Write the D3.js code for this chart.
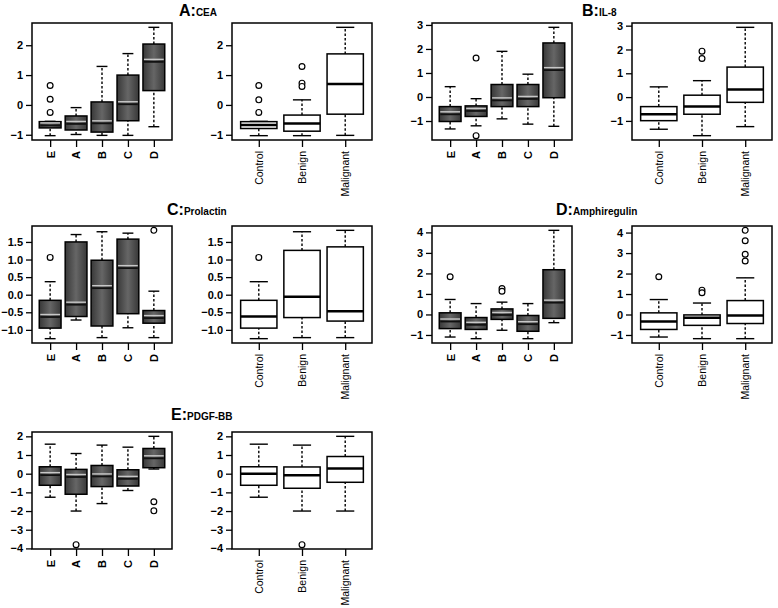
<!DOCTYPE html>
<html>
<head>
<meta charset="utf-8">
<script src="https://cdn.jsdelivr.net/npm/d3@7"></script>
<style>
body { margin: 0; background: #fff; }
svg { font-family: "Liberation Sans", Arial, sans-serif; }
</style>
</head>
<body>
<div id="chart"></div>
<script>
// categories
var stageCats = ["E", "A", "B", "C", "D"];
var groupCats = ["Control", "Benign", "Malignant"];

// box stats per category: [lower whisker, q1, median, q3, upper whisker]
var ceaStage = [[-1.03, -0.77, -0.67, -0.56, -0.55], [-0.99, -0.84, -0.62, -0.37, -0.09],
                [-1.02, -0.91, -0.60, 0.10, 1.29], [-1.02, -0.53, 0.04, 1.00, 1.72],
                [-0.73, 0.48, 1.46, 2.04, 2.60]];
var ceaStageOut = [[0.65, 0.19, -0.25], [], [], [], []];
var ceaGroup = [[-1.03, -0.79, -0.67, -0.56, -0.55], [-1.03, -0.88, -0.62, -0.34, 0.17],
                [-1.02, -0.31, 0.70, 1.71, 2.60]];
var ceaGroupOut = [[0.65, 0.17, -0.25], [1.29, 0.73, 0.62], []];
var ceaTicks = [-1, 0, 1, 2];

var il8Stage = [[-1.33, -1.02, -0.70, -0.40, 0.43], [-1.20, -0.81, -0.56, -0.37, -0.07],
                [-0.91, -0.40, -0.12, 0.52, 1.90], [-1.13, -0.40, -0.06, 0.52, 0.95],
                [-1.22, -0.03, 1.14, 2.25, 2.90]];
var il8StageOut = [[], [1.62, -1.61], [], [], []];
var il8Group = [[-1.35, -0.99, -0.72, -0.40, 0.43], [-1.62, -0.72, -0.40, 0.08, 0.69],
                [-1.24, -0.22, 0.32, 1.26, 2.93]];
var il8GroupOut = [[], [1.93, 1.62], []];
var il8Ticks = [-1, 0, 1, 2, 3];

var prlStage = [[-1.25, -0.95, -0.62, -0.16, 0.37], [-0.72, -0.62, -0.27, 1.50, 1.71],
                [-1.22, -0.89, 0.20, 0.98, 1.79], [-0.94, -0.54, 0.77, 1.58, 1.75],
                [-1.22, -0.81, -0.65, -0.45, 0.10]];
var prlStageOut = [[1.06], [], [], [], [1.83]];
var prlGroup = [[-1.25, -0.95, -0.62, -0.16, 0.37], [-1.22, -0.65, -0.06, 1.26, 1.79],
                [-1.22, -0.75, -0.47, 1.36, 1.83]];
var prlGroupOut = [[1.06], [], []];
var prlTicks = [-1.0, -0.5, 0.0, 0.5, 1.0, 1.5];

var aregStage = [[-1.10, -0.69, -0.32, 0.08, 0.73], [-1.18, -0.73, -0.48, -0.15, 0.53],
                 [-0.77, -0.24, 0.00, 0.27, 0.60], [-1.18, -0.82, -0.45, -0.05, 0.53],
                 [-0.40, -0.19, 0.60, 2.18, 4.10]];
var aregStageOut = [[1.84], [], [1.26, 1.13], [], []];
var aregGroup = [[-1.10, -0.73, -0.34, 0.08, 0.73], [-1.18, -0.53, -0.16, -0.02, 0.56],
                 [-1.18, -0.44, -0.05, 0.68, 1.79]];
var aregGroupOut = [[1.84], [1.19, 1.06], [2.61, 2.94, 3.60, 4.11]];
var aregTicks = [-1, 0, 1, 2, 3, 4];

var pdgfStage = [[-1.26, -0.62, -0.05, 0.37, 1.58], [-2.00, -1.10, -0.15, 0.23, 1.08],
                 [-1.60, -0.69, -0.12, 0.44, 1.53], [-0.90, -0.66, -0.25, 0.21, 1.42],
                 [0.25, 0.32, 0.85, 1.35, 2.00]];
var pdgfStageOut = [[], [-3.80], [], [], [-1.50, -1.99]];
var pdgfGroup = [[-1.26, -0.62, 0.00, 0.37, 1.58], [-2.00, -0.78, -0.09, 0.36, 1.53],
                 [-2.00, -0.46, 0.28, 0.92, 2.00]];
var pdgfGroupOut = [[], [-3.80], []];
var pdgfTicks = [-4, -3, -2, -1, 0, 1, 2];

var width = 778, height = 608;
var plotW = 140, plotH = 117;
var colX = [32, 232, 432, 632];
var rowY = [23, 226, 432];

var svg = d3.select("#chart")
  .append("svg")
    .attr("width", width)
    .attr("height", height);

// grey shading used for the stage boxes
var grad = svg.append("defs").append("linearGradient")
    .attr("id", "shade")
    .attr("x1", "0").attr("x2", "1").attr("y1", "0").attr("y2", "0");
grad.append("stop").attr("offset", "0%").attr("stop-color", "#383838");
grad.append("stop").attr("offset", "50%").attr("stop-color", "#666");
grad.append("stop").attr("offset", "100%").attr("stop-color", "#383838");

function boxPanel(px, py, cats, stats, outs, ticks, fmt, shaded) {
  var g = svg.append("g").attr("transform", "translate(" + px + "," + py + ")");
  var n = cats.length;

  var x = d3.scaleLinear()
    .domain([0.5 - 0.04 * n, n + 0.5 + 0.04 * n])
    .range([0, plotW]);

  var all = [];
  stats.forEach(function(s) { all = all.concat(s); });
  outs.forEach(function(o) { all = all.concat(o); });
  var lo = d3.min(all), hi = d3.max(all), ext = (hi - lo) * 0.04;
  var y = d3.scaleLinear()
    .domain([lo - ext, hi + ext])
    .range([plotH, 0]);

  var bw = (x(2) - x(1)) * 0.84;

  // y axis
  g.append("g")
    .call(d3.axisLeft(y).tickValues(ticks).tickFormat(d3.format(fmt)).tickSize(6).tickPadding(3))
    .call(function(a) { a.select(".domain").remove(); })
    .call(function(a) {
      a.selectAll("line").attr("stroke", "#000").attr("stroke-width", 1.3);
      a.selectAll("text").style("font-size", "11px").style("font-weight", "bold").attr("fill", "#000");
    });

  // x axis
  g.append("g")
    .attr("transform", "translate(0," + plotH + ")")
    .call(d3.axisBottom(x).tickValues(d3.range(1, n + 1))
            .tickFormat(function(d) { return cats[d - 1]; }).tickSize(7))
    .call(function(a) { a.select(".domain").remove(); })
    .call(function(a) {
      a.selectAll("line").attr("stroke", "#000").attr("stroke-width", 1.3);
      a.selectAll("text")
        .attr("transform", "rotate(-90)")
        .attr("x", -11).attr("y", 0).attr("dy", "0.35em")
        .style("text-anchor", "end")
        .style("font-size", shaded ? "11px" : "10.5px")
        .style("font-weight", shaded ? "bold" : "normal")
        .attr("fill", "#000");
    });

  var box = g.selectAll(".bx")
    .data(stats)
    .enter()
    .append("g");

  // whiskers
  box.append("line")
    .attr("x1", function(d, i) { return x(i + 1); })
    .attr("x2", function(d, i) { return x(i + 1); })
    .attr("y1", function(d) { return y(d[0]); })
    .attr("y2", function(d) { return y(d[1]); })
    .attr("stroke", "#000").attr("stroke-width", 1.4).attr("stroke-dasharray", "2.5,2");
  box.append("line")
    .attr("x1", function(d, i) { return x(i + 1); })
    .attr("x2", function(d, i) { return x(i + 1); })
    .attr("y1", function(d) { return y(d[3]); })
    .attr("y2", function(d) { return y(d[4]); })
    .attr("stroke", "#000").attr("stroke-width", 1.4).attr("stroke-dasharray", "2.5,2");

  // staples
  [0, 4].forEach(function(k) {
    box.append("line")
      .attr("x1", function(d, i) { return x(i + 1) - bw / 4; })
      .attr("x2", function(d, i) { return x(i + 1) + bw / 4; })
      .attr("y1", function(d) { return y(d[k]); })
      .attr("y2", function(d) { return y(d[k]); })
      .attr("stroke", "#000").attr("stroke-width", 1.4);
  });

  // boxes
  box.append("rect")
    .attr("x", function(d, i) { return x(i + 1) - bw / 2; })
    .attr("y", function(d) { return y(d[3]); })
    .attr("width", bw)
    .attr("height", function(d) { return y(d[1]) - y(d[3]); })
    .attr("fill", shaded ? "url(#shade)" : "#fff")
    .attr("stroke", "#000").attr("stroke-width", 1.5);

  // medians
  if (shaded) {
    box.append("line")
      .attr("x1", function(d, i) { return x(i + 1) - bw / 2 + 1; })
      .attr("x2", function(d, i) { return x(i + 1) + bw / 2 - 1; })
      .attr("y1", function(d) { return y(d[2]) - 2; })
      .attr("y2", function(d) { return y(d[2]) - 2; })
      .attr("stroke", "#c8c8c8").attr("stroke-width", 1.4);
    box.append("line")
      .attr("x1", function(d, i) { return x(i + 1) - bw / 2 + 1; })
      .attr("x2", function(d, i) { return x(i + 1) + bw / 2 - 1; })
      .attr("y1", function(d) { return y(d[2]) + 0.5; })
      .attr("y2", function(d) { return y(d[2]) + 0.5; })
      .attr("stroke", "#111").attr("stroke-width", 1.8);
  } else {
    box.append("line")
      .attr("x1", function(d, i) { return x(i + 1) - bw / 2; })
      .attr("x2", function(d, i) { return x(i + 1) + bw / 2; })
      .attr("y1", function(d) { return y(d[2]); })
      .attr("y2", function(d) { return y(d[2]); })
      .attr("stroke", "#000").attr("stroke-width", 2.5);
  }

  // outliers
  outs.forEach(function(o, i) {
    g.selectAll(null)
      .data(o)
      .enter()
      .append("circle")
        .attr("cx", x(i + 1))
        .attr("cy", function(d) { return y(d); })
        .attr("r", 2.9)
        .attr("fill", "#fff")
        .attr("stroke", "#000")
        .attr("stroke-width", 1.2);
  });

  // frame
  g.append("rect")
    .attr("width", plotW)
    .attr("height", plotH)
    .attr("fill", "none")
    .attr("stroke", "#000")
    .attr("stroke-width", 1.5);
}

function title(tx, ty, big, small) {
  var t = svg.append("text")
    .attr("x", tx).attr("y", ty)
    .style("font-weight", "bold");
  t.append("tspan").style("font-size", "16px").text(big);
  t.append("tspan").style("font-size", "10px").text(small);
}

boxPanel(colX[0], rowY[0], stageCats, ceaStage, ceaStageOut, ceaTicks, "d", true);
boxPanel(colX[1], rowY[0], groupCats, ceaGroup, ceaGroupOut, ceaTicks, "d", false);
boxPanel(colX[2], rowY[0], stageCats, il8Stage, il8StageOut, il8Ticks, "d", true);
boxPanel(colX[3], rowY[0], groupCats, il8Group, il8GroupOut, il8Ticks, "d", false);
boxPanel(colX[0], rowY[1], stageCats, prlStage, prlStageOut, prlTicks, ".1f", true);
boxPanel(colX[1], rowY[1], groupCats, prlGroup, prlGroupOut, prlTicks, ".1f", false);
boxPanel(colX[2], rowY[1], stageCats, aregStage, aregStageOut, aregTicks, "d", true);
boxPanel(colX[3], rowY[1], groupCats, aregGroup, aregGroupOut, aregTicks, "d", false);
boxPanel(colX[0], rowY[2], stageCats, pdgfStage, pdgfStageOut, pdgfTicks, "d", true);
boxPanel(colX[1], rowY[2], groupCats, pdgfGroup, pdgfGroupOut, pdgfTicks, "d", false);

title(179, 16, "A:", "CEA");
title(582, 16, "B:", "IL-8");
title(167, 215, "C:", "Prolactin");
title(556, 215, "D:", "Amphiregulin");
title(171, 420, "E:", "PDGF-BB");
</script>
</body>
</html>
